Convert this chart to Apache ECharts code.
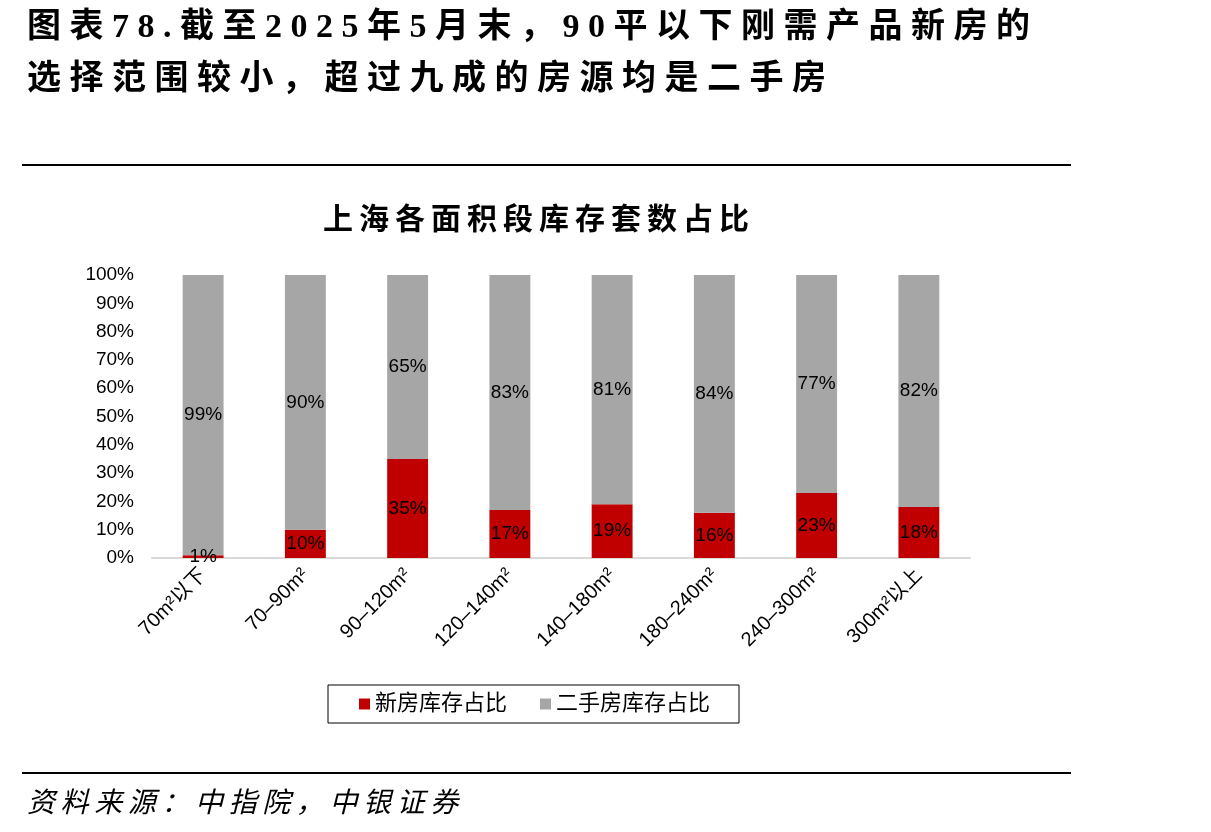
<!DOCTYPE html>
<html>
<head>
<meta charset="utf-8">
<script src="https://cdn.jsdelivr.net/npm/echarts@6/dist/echarts.min.js"></script>
<style>
  html, body { margin: 0; padding: 0; background: #fff; }
  #main { width: 1211px; height: 832px; }
</style>
</head>
<body>
<div id="main"></div>
<script>
var categories = ['70m²以下', '70–90m²', '90–120m²', '120–140m²', '140–180m²', '180–240m²', '240–300m²', '300m²以上'];
var newShare = [1, 10, 35, 17, 19, 16, 23, 18];
var usedShare = [99, 90, 65, 83, 81, 84, 77, 82];
var yTicks = [0, 10, 20, 30, 40, 50, 60, 70, 80, 90, 100];

var chartDom = document.getElementById('main');
var myChart = echarts.init(chartDom);
var option;

var sansFont = '"Liberation Sans", "Noto Sans CJK SC", sans-serif';
var serifFont = '"Liberation Serif", "Noto Sans CJK SC", serif';

// spread characters a little, like the report's typesetting
function spaced(s, gap) {
    return s.split('').join(gap || '\u2009');
}

option = {
    backgroundColor: '#fff',
    animation: false,
    title: [
        {
            text: spaced('图表78.截至2025年5月末，90平以下刚需产品新房的', ' '),
            left: 22,
            top: 6,
            textStyle: {
                fontFamily: serifFont,
                fontWeight: 'bold',
                fontSize: 34,
                color: '#000'
            }
        },
        {
            text: spaced('选择范围较小，超过九成的房源均是二手房', ' '),
            left: 22,
            top: 58,
            textStyle: {
                fontFamily: serifFont,
                fontWeight: 'bold',
                fontSize: 34,
                color: '#000'
            }
        },
        {
            text: spaced('上海各面积段库存套数占比'),
            left: 531,
            top: 201,
            textAlign: 'center',
            textStyle: {
                fontFamily: serifFont,
                fontWeight: 'bold',
                fontSize: 30,
                color: '#000'
            }
        },
        {
            text: spaced('资料来源：中指院，中银证券'),
            left: 22,
            top: 786,
            textStyle: {
                fontFamily: serifFont,
                fontStyle: 'italic',
                fontWeight: 'normal',
                fontSize: 28,
                color: '#000'
            }
        }
    ],
    graphic: [
        {
            type: 'line',
            shape: { x1: 22, y1: 165, x2: 1071, y2: 165 },
            style: { stroke: '#000', lineWidth: 2 }
        },
        {
            type: 'line',
            shape: { x1: 22, y1: 773, x2: 1071, y2: 773 },
            style: { stroke: '#000', lineWidth: 2 }
        }
    ],
    legend: {
        left: 328,
        top: 685,
        padding: [8, 29, 8, 31],
        itemGap: 33,
        itemWidth: 11,
        itemHeight: 11,
        icon: 'rect',
        borderColor: '#000',
        borderWidth: 1,
        textStyle: {
            fontFamily: serifFont,
            fontSize: 22,
            color: '#000'
        },
        data: ['新房库存占比', '二手房库存占比']
    },
    grid: {
        left: 152,
        right: 241,
        top: 275,
        bottom: 274,
        containLabel: false
    },
    xAxis: {
        type: 'category',
        data: categories,
        axisLine: { lineStyle: { color: '#d9d9d9', width: 2 } },
        axisTick: { show: false },
        axisLabel: {
            rotate: 45,
            margin: 14,
            fontFamily: sansFont,
            fontSize: 20,
            color: '#000'
        }
    },
    yAxis: {
        type: 'value',
        min: yTicks[0],
        max: yTicks[yTicks.length - 1],
        interval: 10,
        splitLine: { show: false },
        axisLine: { show: false },
        axisTick: { show: false },
        axisLabel: {
            margin: 18,
            fontFamily: sansFont,
            fontSize: 19,
            color: '#000',
            formatter: '{value}%'
        }
    },
    series: [
        {
            name: '新房库存占比',
            type: 'bar',
            stack: 'total',
            barWidth: '40%',
            data: newShare,
            itemStyle: { color: '#c00000' },
            label: {
                show: true,
                position: 'inside',
                fontFamily: sansFont,
                fontSize: 19,
                color: '#000',
                formatter: '{c}%'
            }
        },
        {
            name: '二手房库存占比',
            type: 'bar',
            stack: 'total',
            barWidth: '40%',
            data: usedShare,
            itemStyle: { color: '#a6a6a6' },
            label: {
                show: true,
                position: 'inside',
                fontFamily: sansFont,
                fontSize: 19,
                color: '#000',
                formatter: '{c}%'
            }
        }
    ]
};

option && myChart.setOption(option);
</script>
</body>
</html>
